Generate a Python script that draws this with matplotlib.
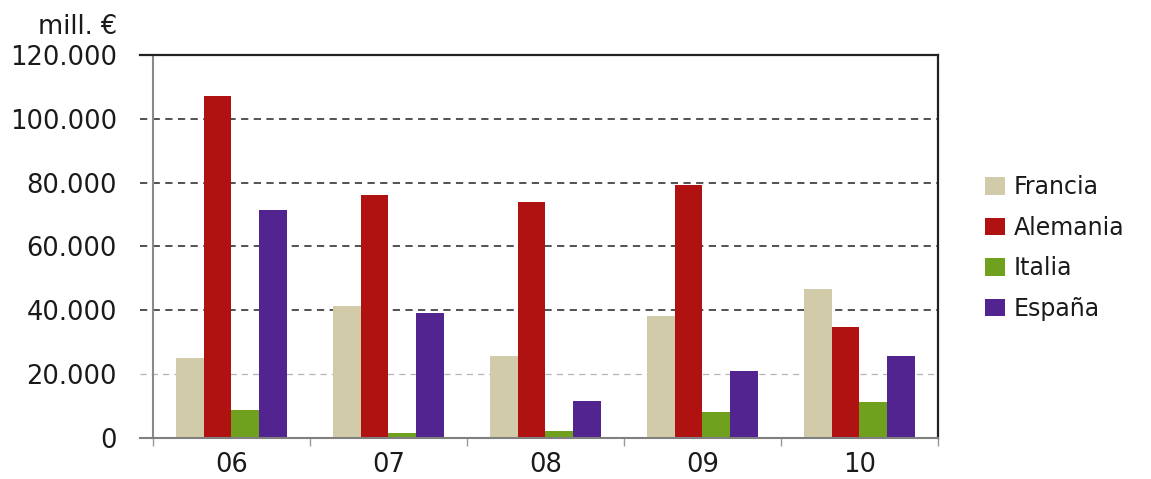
import numpy as np
import matplotlib.pyplot as plt

years = ['06', '07', '08', '09', '10']
countries = ['Francia', 'Alemania', 'Italia', 'España']
francia = [25000, 41200, 25800, 38300, 46700]
alemania = [107000, 76000, 73900, 79300, 34900]
italia = [8800, 1500, 2300, 8200, 11400]
espana = [71500, 39200, 11700, 21100, 25800]
colors = ['#d2cbaa', '#b01212', '#6fa01e', '#51248f']

series = [francia, alemania, italia, espana]
y_ticks = [0, 20000, 40000, 60000, 80000, 100000, 120000]
y_labels = ['0', '20.000', '40.000', '60.000', '80.000', '100.000', '120.000']

fig = plt.figure(figsize=(11.51, 4.79), dpi=100)
ax = fig.add_axes([0.1329, 0.0856, 0.682, 0.7996])

x = np.arange(len(years))
w = 0.178
for i, (vals, name, c) in enumerate(zip(series, countries, colors)):
    ax.bar(x + (i - 1.5) * w, vals, width=w, color=c, label=name, zorder=3)

ax.set_xlim(-0.5, 4.5)
ax.set_ylim(0, 120000)

# horizontal lines, sticking out a bit to the left of the axis
x0 = -0.583
for v in y_ticks:
    if v == 0:
        ax.plot([x0, 4.5], [v, v], color='#808080', lw=1.5, clip_on=False, zorder=4)
    elif v == 120000:
        ax.plot([x0, 4.5], [v, v], color='#222222', lw=1.6, clip_on=False, zorder=4)
    elif v == 20000:
        ax.plot([x0, 4.5], [v, v], color='#b5b5b5', lw=0.9, ls=(0, (5, 4)), clip_on=False, zorder=1)
    else:
        ax.plot([x0, 4.5], [v, v], color='#444444', lw=1.3, ls=(0, (4, 3)), clip_on=False, zorder=1)

ax.spines['top'].set_visible(False)
ax.spines['bottom'].set_visible(False)
ax.spines['left'].set_color('#8a8a8a')
ax.spines['left'].set_linewidth(1.5)
ax.spines['right'].set_color('#222222')
ax.spines['right'].set_linewidth(1.6)

ax.set_yticks(y_ticks)
ax.set_yticklabels(y_labels, fontsize=18.5, color='#1a1a1a')
ax.tick_params(axis='y', length=0, pad=26)

ax.set_xticks(np.arange(-0.5, 5, 1))
ax.set_xticklabels([])
ax.set_xticks(x, minor=True)
ax.set_xticklabels(years, minor=True, fontsize=18.5, color='#1a1a1a')
ax.tick_params(axis='x', which='major', length=6, color='#9a9a9a', width=1.0)
ax.tick_params(axis='x', which='minor', length=0, pad=10)

fig.text(0.033, 0.93, 'mill. €', fontsize=18.5, color='#1a1a1a')

ax.legend(loc='center left', bbox_to_anchor=(1.06, 0.496), frameon=False,
          fontsize=17, handlelength=0.85, handleheight=0.75, handletextpad=0.35,
          labelspacing=0.7, borderaxespad=0, borderpad=0, labelcolor='#1a1a1a')

fig.savefig('out.png', dpi=100)
